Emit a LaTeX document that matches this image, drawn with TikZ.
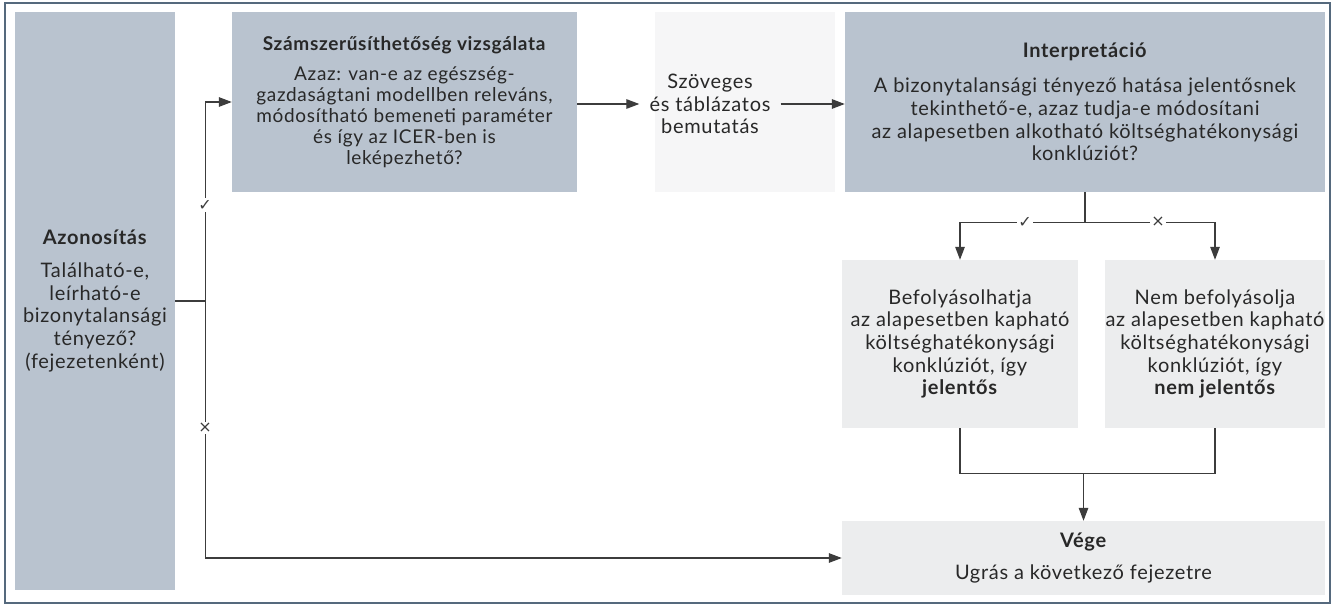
\documentclass[tikz,border=0pt]{standalone}
\usepackage{fontspec}
\setmainfont{Lato}[LetterSpace=3.5]
\newfontfamily\symfont{DejaVu Sans}
\usetikzlibrary{arrows.meta,positioning}
\definecolor{boxdark}{RGB}{185,195,207}
\definecolor{boxlight}{RGB}{236,237,238}
\definecolor{boxfaint}{RGB}{246,246,247}
\definecolor{framec}{RGB}{85,105,125}
\definecolor{linec}{RGB}{60,60,60}
\definecolor{textc}{RGB}{40,40,40}
\begin{document}
\begin{tikzpicture}[x=1pt,y=-1pt,
  box/.style={inner sep=0pt, align=center, text=textc, font=\fontsize{20}{22.7}\selectfont},
  darkbox/.style={box, fill=boxdark},
  lightbox/.style={box, fill=boxlight},
  conn/.style={draw=linec, line width=1.3pt},
  arr/.style={conn, -{Triangle[length=13pt,width=9.5pt]}},
  lbl/.style={fill=white, inner sep=1.5pt, font=\symfont\fontsize{16}{16}\selectfont, text=linec}]
\useasboundingbox (0,0) rectangle (1332,605);
\fill[white] (0,0) rectangle (1332,605);
\fill[boxfaint] (655,12) rectangle (835,192);
% boxes
\node[darkbox, minimum width=160pt, minimum height=578pt] (azon) at (95,301)
  {\textbf{Azonosítás}\\[10pt] Található-e,\\ leírható-e\\ bizonytalansági\\ tényező?\\ (fejezetenként)};
\node[darkbox, minimum width=345pt, minimum height=180pt, font=\fontsize{19}{21}\selectfont] (szam) at (404.5,102)
  {\textbf{Számszerűsíthetőség vizsgálata}\\[9pt] Azaz: van-e az egészség-\\ gazdaságtani modellben releváns,\\ módosítható bemeneti paraméter\\ és így az ICER-ben is\\ leképezhető?};
\node[box, inner xsep=10pt] (szov) at (710,104)
  {Szöveges\\ és táblázatos\\ bemutatás};
\node[darkbox, minimum width=480pt, minimum height=180pt] (interp) at (1085,102)
  {\textbf{Interpretáció}\\[12pt] A bizonytalansági tényező hatása jelentősnek\\ tekinthető-e, azaz tudja-e módosítani\\ az alapesetben alkotható költséghatékonysági\\ konklúziót?};
\node[lightbox, minimum width=236pt, minimum height=168pt] (befoly) at (960,344)
  {Befolyásolhatja\\ az alapesetben kapható\\ költséghatékonysági\\ konklúziót, így\\ \textbf{jelentős}};
\node[lightbox, minimum width=220pt, minimum height=168pt] (nem) at (1215,344)
  {Nem befolyásolja\\ az alapesetben kapható\\ költséghatékonysági\\ konklúziót, így\\ \textbf{nem jelentős}};
\node[lightbox, minimum width=483pt, minimum height=74pt] (vege) at (1083.5,558)
  {\textbf{Vége}\\[10pt] Ugrás a következő fejezetre};
% connectors
\draw[conn] (azon.east) -- ++(30,0) coordinate (j);
\draw[arr] (j) |- (szam.west);
\draw[arr] (j) |- (vege.west);
\draw[arr] (szam.east |- szov.west) -- (szov.west);
\draw[arr] (szov.east) -- (szov.east -| interp.west);
\draw[conn] (interp.south) -- ++(0,30) coordinate (split);
\draw[arr] (split) -| (befoly.north);
\draw[arr] (split) -| (nem.north);
\draw[conn] (befoly.south) -- ++(0,45) coordinate (ml) -| (nem.south);
\coordinate (merge) at (vege.north |- ml);
\draw[arr] (merge) -- (vege.north);
% labels
\node[lbl] (yes1) at (205,205) {✓};
\node[lbl] (no1) at (205,428) {×};
\node[lbl] (yes2) at (1025,222) {✓};
\node[lbl] (no2) at (1158,222) {×};
% frame
\draw[framec, line width=2pt] (5,2.5) rectangle (1330,603);
\end{tikzpicture}
\end{document}
